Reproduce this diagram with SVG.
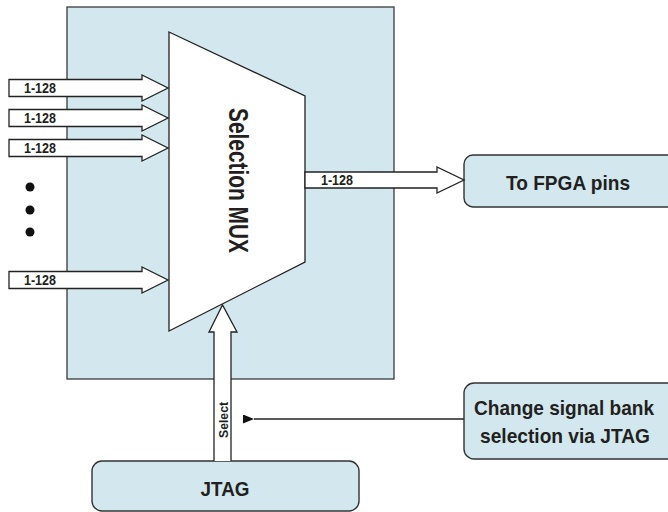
<svg xmlns="http://www.w3.org/2000/svg" width="668" height="512" viewBox="0 0 668 512">
<style>
.panel{fill:#d2e8ee;stroke:#3a3a3a;stroke-width:1.3}
.box{fill:#d2e8ee;stroke:#333;stroke-width:1.4}
.mux{fill:#fff;stroke:#222;stroke-width:1.3}
.bus{fill:#fff;stroke:#222;stroke-width:1.3;stroke-linejoin:miter}
.t{font-family:"Liberation Sans",Arial,sans-serif;font-weight:bold;fill:#231f20}
.lbl{font-size:14px}
.big{font-size:21px;text-anchor:middle}
.line{stroke:#222;stroke-width:1.3;fill:none}
</style>
<defs>
<marker id="ah" viewBox="0 0 11 9" refX="0" refY="4.5" markerWidth="11" markerHeight="9" markerUnits="userSpaceOnUse" orient="auto-start-reverse">
<path d="M11,0 L0,4.5 L11,9 Z" fill="#111"/>
</marker>
</defs>
<rect x="0" y="0" width="668" height="512" fill="#fff"/>

<g id="fpga-panel">
<rect class="panel" x="67" y="7" width="327" height="372"/>
</g>

<g id="selection-mux">
<polygon class="mux" points="169,32 305,96 305,262 169,331"/>
<text class="t" font-size="27" text-anchor="middle" textLength="145" lengthAdjust="spacingAndGlyphs" transform="translate(229,180.5) rotate(90)">Selection MUX</text>
</g>

<g id="to-fpga-pins">
<rect class="box" x="464" y="155" width="230" height="52" rx="9" ry="9"/>
<text class="t big" x="568" y="190" font-size="22" textLength="124" lengthAdjust="spacingAndGlyphs">To FPGA pins</text>
</g>

<g id="change-selection">
<rect class="box" x="464" y="383" width="230" height="76" rx="10" ry="10"/>
<text class="t big" x="564" y="415" textLength="180" lengthAdjust="spacingAndGlyphs">Change signal bank</text>
<text class="t big" x="565" y="443" textLength="170" lengthAdjust="spacingAndGlyphs">selection via JTAG</text>
</g>

<g id="jtag">
<rect class="box" x="92" y="461" width="267" height="50" rx="10" ry="10"/>
<text class="t big" x="225" y="496" textLength="49" lengthAdjust="spacingAndGlyphs">JTAG</text>
</g>

<g id="connectors">
<path class="bus" d="M9,79.5 H142 V75 L168,88 L142,101 V96.5 H9 Z"/>
<path class="bus" d="M9,109.5 H142 V105 L168,118 L142,131 V126.5 H9 Z"/>
<path class="bus" d="M9,139.5 H142 V135 L168,148 L142,161 V156.5 H9 Z"/>
<path class="bus" d="M9,271.5 H142 V267 L168,280 L142,293 V288.5 H9 Z"/>
<path class="bus" d="M305,172 H437 V167 L464,180 L437,193 V188 H305 Z"/>
<path class="bus" d="M214,461 V332 H209 L222.5,305 L237,332 H231 V461"/>
<line class="line" x1="464" y1="419" x2="254" y2="419" marker-end="url(#ah)"/>
<text class="t lbl" x="24" y="93" textLength="32" lengthAdjust="spacingAndGlyphs">1-128</text>
<text class="t lbl" x="24" y="123" textLength="32" lengthAdjust="spacingAndGlyphs">1-128</text>
<text class="t lbl" x="24" y="153" textLength="32" lengthAdjust="spacingAndGlyphs">1-128</text>
<text class="t lbl" x="24" y="285" textLength="32" lengthAdjust="spacingAndGlyphs">1-128</text>
<text class="t lbl" x="321" y="185" textLength="32" lengthAdjust="spacingAndGlyphs">1-128</text>
<text class="t" font-size="13" text-anchor="middle" textLength="36" lengthAdjust="spacingAndGlyphs" transform="translate(227.5,420) rotate(-90)">Select</text>
</g>

<g id="ellipsis">
<circle cx="30" cy="187" r="4.5" fill="#111"/>
<circle cx="30" cy="210" r="4.5" fill="#111"/>
<circle cx="30" cy="232" r="4.5" fill="#111"/>
</g>
</svg>
